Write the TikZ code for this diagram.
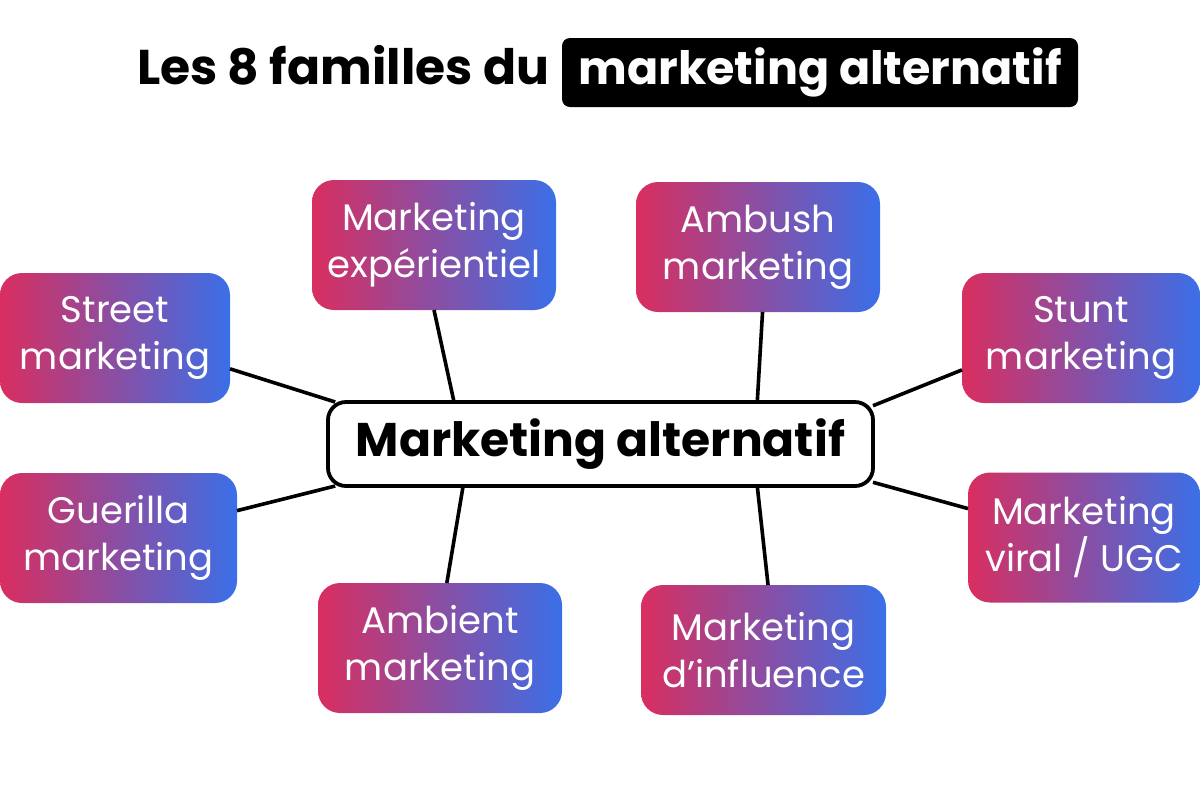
\documentclass[tikz,border=0pt]{standalone}
\usepackage{fontspec}
\setmainfont{Poppins}
\usetikzlibrary{positioning}
\definecolor{rose}{HTML}{D92E5F}
\definecolor{bleu}{HTML}{3A6FE8}
\begin{document}
\begin{tikzpicture}[
  x=0.5pt, y=-0.5pt,
  famille/.style={
    rounded corners=11pt,
    left color=rose,
    right color=bleu,
    text=white,
    align=center,
    font=\fontsize{18.5}{23.5}\selectfont,
    minimum height=65pt,
    inner sep=0pt,
    outer sep=0pt
  },
  centre/.style={
    draw,
    line width=1.9pt,
    rounded corners=9pt,
    fill=white,
    minimum width=272.5pt,
    minimum height=42pt,
    inner sep=0pt,
    outer sep=0pt,
    font=\bfseries\fontsize{23.6}{28}\selectfont
  },
  titre/.style={font=\bfseries\fontsize{24.4}{30}\selectfont, inner sep=0pt},
  titrebox/.style={
    font=\bfseries\fontsize{23}{30}\selectfont,
    inner sep=0pt,
    fill=black,
    text=white,
    rounded corners=4pt,
    minimum width=258pt,
    minimum height=34.5pt
  },
  lien/.style={line width=1.8pt}
]
\useasboundingbox (0,0) rectangle (1200,800);

\node[titrebox] (titre2) at (820,72.5) {marketing alternatif};
\node[titre, base left=6pt of titre2] (titre1) {Les 8 familles du};

\node[centre] (centre) at (600.5,444) {Marketing alternatif};

\node[famille, minimum width=115pt] (street) at (115,338) {Street\\marketing};
\node[famille, minimum width=118.5pt] (guerilla) at (118.5,538) {Guerilla\\marketing};
\node[famille, minimum width=122pt] (experientiel) at (434,245) {Marketing\\expérientiel};
\node[famille, minimum width=122pt] (ambush) at (758,247) {Ambush\\marketing};
\node[famille, minimum width=119pt] (stunt) at (1081,338) {Stunt\\marketing};
\node[famille, minimum width=116pt] (viral) at (1084,537.5) {Marketing\\viral / UGC};
\node[famille, minimum width=122pt] (ambient) at (440,648) {Ambient\\marketing};
\node[famille, minimum width=122.5pt] (influence) at (763.5,650) {Marketing\\d’influence};

\draw[lien] (street.-15.6) -- (centre.171.8);
\draw[lien] (guerilla.13.3) -- (centre.-171.2);
\draw[lien] (experientiel.-90) -- (centre.164.8);
\draw[lien] (ambush.-86.4) -- (centre.15.5);
\draw[lien] (stunt.-165.2) -- (centre.8.2);
\draw[lien] (viral.166.7) -- (centre.-8.4);
\draw[lien] (ambient.84.7) -- (centre.-163);
\draw[lien] (influence.86.9) -- (centre.-15.1);
\end{tikzpicture}
\end{document}
